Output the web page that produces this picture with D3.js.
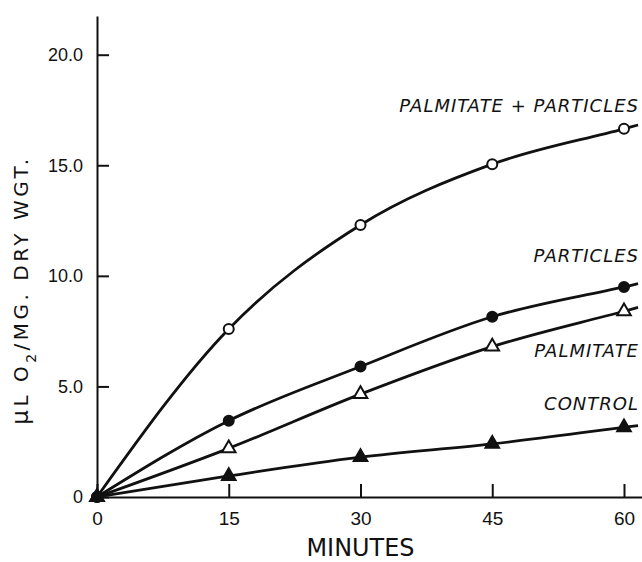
<!DOCTYPE html>
<html>
<head>
<meta charset="utf-8">
<script src="https://cdn.jsdelivr.net/npm/d3@7"></script>
<style>
  body { margin: 0; background: #fff; }
  svg { display: block; font-family: "DejaVu Sans", "Liberation Sans", sans-serif; }
  .axis path, .axis line { stroke: #111; stroke-width: 2px; }
  .axis text { fill: #111; font-size: 18px; }
  .series-label { font-style: italic; font-size: 18px; letter-spacing: 1px; fill: #111; }
</style>
</head>
<body>
<div id="chart"></div>
<script>
// data
var minutes = [0, 15, 30, 45, 60];
var palmitateParticles = [0, 7.6, 12.3, 15.05, 16.65];
var particles = [0, 3.45, 5.9, 8.15, 9.5];
var palmitate = [0, 2.2, 4.65, 6.8, 8.4];
var control = [0, 0.95, 1.8, 2.4, 3.15];

var yTicks = [0, 5, 10, 15, 20];
var xTicks = [0, 15, 30, 45, 60];

var series = [
  { name: "PALMITATE + PARTICLES", values: palmitateParticles, marker: "openCircle" },
  { name: "PARTICLES", values: particles, marker: "filledCircle" },
  { name: "PALMITATE", values: palmitate, marker: "openTriangle" },
  { name: "CONTROL", values: control, marker: "filledTriangle" }
];

// label placement relative to the last point (pixels)
var labelDy = { "PALMITATE + PARTICLES": -17, "PARTICLES": -25, "PALMITATE": 46, "CONTROL": -17 };

var width = 642, height = 562;

var svg = d3.select("#chart").append("svg")
  .attr("width", width)
  .attr("height", height);

var x = d3.scaleLinear().domain([0, 62.05]).range([97, 642]);
var y = d3.scaleLinear().domain([0, 21.75]).range([497, 16]);

// y axis, ticks pointing inward
var yAxis = d3.axisLeft(y)
  .tickValues(yTicks)
  .tickSizeInner(-12)
  .tickSizeOuter(0)
  .tickPadding(14)
  .tickFormat(function(d){ return d === 0 ? "0" : d3.format(".1f")(d); });

svg.append("g")
  .attr("class", "axis y-axis")
  .attr("transform", "translate(" + x(0) + ",0)")
  .call(yAxis);

// x axis
var xAxis = d3.axisBottom(x)
  .tickValues(xTicks)
  .tickSizeInner(-13)
  .tickSizeOuter(0)
  .tickPadding(15);

svg.append("g")
  .attr("class", "axis x-axis")
  .attr("transform", "translate(0," + y(0) + ")")
  .call(xAxis);

svg.selectAll(".x-axis text").style("font-size", "19px");

// axis titles
var yTitle = svg.append("text")
  .attr("transform", "translate(28,290) rotate(-90)")
  .attr("text-anchor", "middle")
  .style("font-size", "20px")
  .style("letter-spacing", "3.5px")
  .attr("fill", "#111");
yTitle.append("tspan").style("font-size", "23px").text("\u03BC");
yTitle.append("tspan").text("L O");
yTitle.append("tspan").attr("baseline-shift", "sub").style("font-size", "14px").text("2");
yTitle.append("tspan").text("/MG. DRY WGT.");

svg.append("text")
  .attr("x", x(30))
  .attr("y", 556)
  .attr("text-anchor", "middle")
  .style("font-size", "24px")
  .attr("fill", "#111")
  .attr("textLength", 108)
  .attr("lengthAdjust", "spacingAndGlyphs")
  .text("MINUTES");

// curves
var line = d3.line()
  .x(function(d){ return x(d[0]); })
  .y(function(d){ return y(d[1]); })
  .curve(d3.curveMonotoneX);

series.forEach(function(s) {
  var pts = minutes.map(function(m, i){ return [m, s.values[i]]; });
  var n = pts.length;
  // short run-out past the last point, along the last segment's slope
  var slope = (pts[n-1][1] - pts[n-2][1]) / (pts[n-1][0] - pts[n-2][0]);
  var tail = [pts[n-1][0] + 1.6, pts[n-1][1] + slope * 1.6];

  svg.append("path")
    .datum(pts.concat([tail]))
    .attr("fill", "none")
    .attr("stroke", "#111")
    .attr("stroke-width", 2.8)
    .attr("d", line);
});

// markers
var tri = d3.symbol().type(d3.symbolTriangle).size(80);
series.forEach(function(s) {
  var pts = minutes.map(function(m, i){ return [m, s.values[i]]; });
  var g = svg.append("g");
  var marks;
  if (s.marker === "openCircle" || s.marker === "filledCircle") {
    marks = g.selectAll("circle").data(pts).enter().append("circle")
      .attr("cx", function(d){ return x(d[0]); })
      .attr("cy", function(d){ return y(d[1]); })
      .attr("r", 5);
  } else {
    marks = g.selectAll("path").data(pts).enter().append("path")
      .attr("d", tri)
      .attr("transform", function(d){ return "translate(" + x(d[0]) + "," + y(d[1]) + ")"; });
  }
  var open = s.marker.indexOf("open") === 0;
  marks.attr("fill", open ? "#fff" : "#111")
    .attr("stroke", "#111")
    .attr("stroke-width", 2);
});

// series labels
svg.selectAll(".series-label")
  .data(series).enter()
  .append("text")
  .attr("class", "series-label")
  .attr("x", 639)
  .attr("y", function(d){ return y(d.values[d.values.length - 1]) + labelDy[d.name]; })
  .attr("text-anchor", "end")
  .text(function(d){ return d.name; });
</script>
</body>
</html>
